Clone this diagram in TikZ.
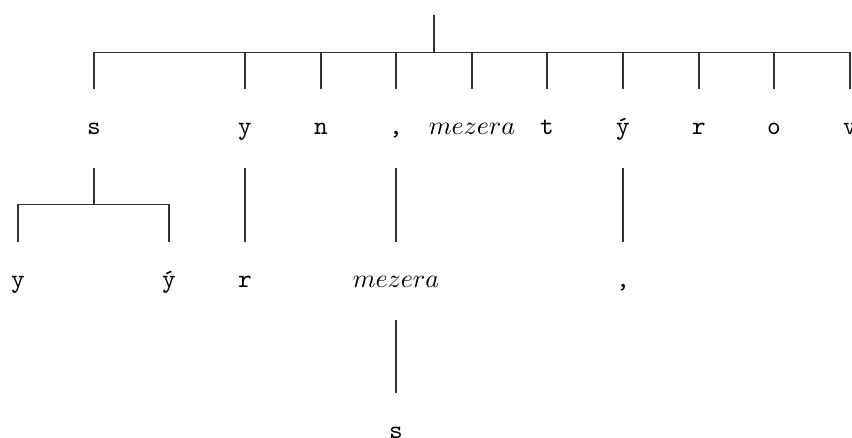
\documentclass[tikz,border=0pt]{standalone}
\usetikzlibrary{calc}
\newcommand\tedge[2]{\draw[br] (#1) |- ($(#1)!.5!(#2)$) -| (#2);}
\begin{document}
\begin{tikzpicture}[x=0.3846pt,y=-0.3846pt,
  lbl/.style={inner sep=0pt, text height=17.3pt, text depth=12.3pt, anchor=base, font=\ttfamily},
  br/.style={line width=0.4pt, draw=black!80}]
\useasboundingbox (0,0) rectangle (852,437);
\coordinate (root) at (434,15);
% level 1
\node[lbl] (s)  at (94,135)  {s};
\node[lbl] (y)  at (245,135) {y};
\node[lbl] (n)  at (321,135) {n};
\node[lbl] (c)  at (396,135) {,};
\node[lbl] (m)  at (472,135) {$mezera$};
\node[lbl] (t)  at (547,135) {t};
\node[lbl] (yy) at (623,135) {ý};
\node[lbl] (r)  at (699,135) {r};
\node[lbl] (o)  at (774,135) {o};
\node[lbl] (v)  at (850,135) {v};
% level 2
\node[lbl] (sy)  at (18,287)  {y};
\node[lbl] (syy) at (169,287) {ý};
\node[lbl] (yr)  at (245,287) {r};
\node[lbl] (cm)  at (396,287) {$mezera$};
\node[lbl] (yyc) at (623,287) {,};
% level 3
\node[lbl] (cms) at (396,438) {s};
% edges
\foreach \k in {s,y,n,c,m,t,yy,r,o,v} {\tedge{root}{\k.north}}
\tedge{s.south}{sy.north}
\tedge{s.south}{syy.north}
\tedge{y.south}{yr.north}
\tedge{c.south}{cm.north}
\tedge{yy.south}{yyc.north}
\tedge{cm.south}{cms.north}
\end{tikzpicture}
\end{document}
